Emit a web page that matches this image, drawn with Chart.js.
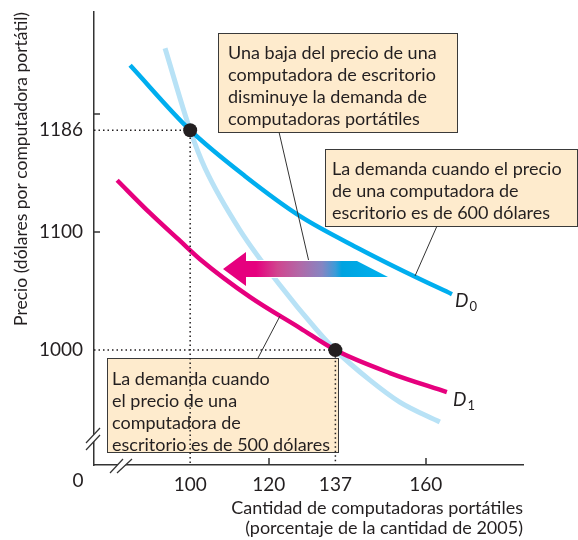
<!DOCTYPE html>
<html lang="es">
<head>
<meta charset="UTF-8" />
<title>Demanda de computadoras portátiles</title>
<script src="https://cdn.jsdelivr.net/npm/chart.js@4.4.0/dist/chart.umd.min.js"></script>
<style>
    html, body { margin: 0; padding: 0; background: #fff; }
</style>
</head>
<body>
<canvas id="demandChart" width="578" height="540"></canvas>

<script>
    // ejes
    const xMin = 75.5, xMax = 184.8;
    const yMin = 902.8, yMax = 1286;
    const xTicks = [100, 120, 137, 160];
    const yTicks = [1000, 1100, 1186, 1200];
    const xTickMarks = [120, 160];      // marcas sin línea punteada
    const yTickMarks = [1100, 1200];

    // curvas de demanda
    const d0X = [84.7, 100, 114.0, 128.0, 143.3, 156.0, 166.7];
    const d0Y = [1240.9, 1186, 1147.1, 1113.3, 1085.4, 1064.2, 1047.3];
    const d1X = [81.4, 89.8, 97.5, 102.5, 115.3, 128.0, 137, 150.9, 165.4];
    const d1Y = [1143.7, 1115.8, 1092.1, 1076.9, 1044.8, 1018.6, 1000, 980.6, 964.5];
    const steepX = [93.6, 100, 103.8, 112.7, 122.9, 132.3, 137, 145.8, 153.4, 163.6];
    const steepY = [1255.3, 1186, 1153.8, 1101.4, 1054.9, 1016.9, 1000, 974.6, 956.0, 939.1];

    // equilibrios
    const eqX = [100, 137];
    const eqY = [1186, 1000];

    const font = 'Lato';
    const ink = '#231F20';

    const pts = (xs, ys) => xs.map((x, i) => ({ x: x, y: ys[i] }));

    // líneas punteadas desde los ejes hasta cada punto
    const guides = [];
    eqX.forEach((x, i) => {
        guides.push({ x: xMin, y: eqY[i] }, { x: x, y: eqY[i] }, { x: x, y: yMin }, { x: NaN, y: NaN });
    });

    // cuadros de texto
    const boxes = [
        { x: 218, y: 33, w: 239, h: 99, tx: 228, ty: 53,
          lines: ['Una baja del precio de una', 'computadora de escritorio', 'disminuye la demanda de', 'computadoras portátiles'] },
        { x: 325, y: 149, w: 252, h: 77, tx: 332, ty: 169,
          lines: ['La demanda cuando el precio', 'de una computadora de', 'escritorio es de 600 dólares'] },
        { x: 107, y: 358, w: 231, h: 94, tx: 112, ty: 379,
          lines: ['La demanda cuando', 'el precio de una', 'computadora de', 'escritorio es de 500 dólares'] }
    ];

    const notes = {
        id: 'notes',
        beforeDatasetsDraw(chart) {
            const ctx = chart.ctx;
            ctx.save();
            boxes.forEach(b => {
                ctx.fillStyle = '#FEEBCD';
                ctx.fillRect(b.x, b.y, b.w, b.h);
                ctx.strokeStyle = '#3a3a3a';
                ctx.lineWidth = 1;
                ctx.strokeRect(b.x + 0.5, b.y + 0.5, b.w, b.h);
                ctx.fillStyle = ink;
                ctx.font = '18px ' + font;
                ctx.textBaseline = 'middle';
                ctx.textAlign = 'left';
                b.lines.forEach((t, i) => ctx.fillText(t, b.tx, b.ty + i * 22));
            });
            ctx.restore();
        },
        afterDatasetsDraw(chart) {
            const ctx = chart.ctx;
            ctx.save();
            // líneas de referencia
            ctx.strokeStyle = '#333';
            ctx.lineWidth = 1;
            [[279, 132, 309, 262], [437, 226, 415, 276], [258, 358, 280, 316]].forEach(l => {
                ctx.beginPath();
                ctx.moveTo(l[0], l[1]);
                ctx.lineTo(l[2], l[3]);
                ctx.stroke();
            });

            // flecha del desplazamiento
            const g = ctx.createLinearGradient(223, 0, 388, 0);
            g.addColorStop(0, '#E6007E');
            g.addColorStop(0.2, '#E6007E');
            g.addColorStop(0.33, '#D0468F');
            g.addColorStop(0.47, '#B06AA8');
            g.addColorStop(0.6, '#8685C2');
            g.addColorStop(0.68, '#3D9BD8');
            g.addColorStop(0.72, '#00A3E0');
            g.addColorStop(1, '#00B2EF');
            ctx.beginPath();
            ctx.moveTo(223, 269);
            ctx.lineTo(246, 252);
            ctx.lineTo(246, 261);
            ctx.lineTo(357, 261);
            ctx.lineTo(388, 277);
            ctx.lineTo(246, 277);
            ctx.lineTo(246, 286);
            ctx.closePath();
            ctx.strokeStyle = '#fff';
            ctx.lineWidth = 2;
            ctx.stroke();
            ctx.fillStyle = g;
            ctx.fill();

            // etiquetas D0 y D1
            ctx.fillStyle = ink;
            ctx.textBaseline = 'middle';
            ctx.textAlign = 'left';
            [['0', 455, 301], ['1', 453, 400]].forEach(d => {
                ctx.font = 'italic 19px ' + font;
                ctx.fillText('D', d[1], d[2]);
                const w = ctx.measureText('D').width;
                ctx.font = '13px ' + font;
                ctx.fillText(d[0], d[1] + w + 1, d[2] + 6);
            });
            ctx.restore();
        },
        afterDraw(chart) {
            const ctx = chart.ctx;
            const xs = chart.scales.x, ys = chart.scales.y;
            const a = chart.chartArea;
            ctx.save();
            ctx.strokeStyle = '#333';
            ctx.lineWidth = 1.5;
            // marcas de graduación hacia adentro
            xTickMarks.forEach(v => {
                const px = Math.round(xs.getPixelForValue(v));
                ctx.beginPath();
                ctx.moveTo(px, a.bottom);
                ctx.lineTo(px, a.bottom - 7);
                ctx.stroke();
            });
            yTickMarks.forEach(v => {
                const py = Math.round(ys.getPixelForValue(v));
                ctx.beginPath();
                ctx.moveTo(a.left, py);
                ctx.lineTo(a.left + 6, py);
                ctx.stroke();
            });

            // cortes de los ejes
            ctx.fillStyle = '#fff';
            ctx.beginPath();
            ctx.moveTo(86, 443); ctx.lineTo(100, 428); ctx.lineTo(100, 435); ctx.lineTo(86, 450);
            ctx.closePath();
            ctx.fill();
            ctx.beginPath();
            ctx.moveTo(110, 473); ctx.lineTo(123, 459); ctx.lineTo(132, 459); ctx.lineTo(117, 473);
            ctx.closePath();
            ctx.fill();
            ctx.lineWidth = 1.2;
            [[86, 443, 100, 428], [86, 450, 100, 435], [110, 473, 123, 459], [117, 473, 132, 459]].forEach(l => {
                ctx.beginPath();
                ctx.moveTo(l[0], l[1]);
                ctx.lineTo(l[2], l[3]);
                ctx.stroke();
            });

            // origen
            ctx.fillStyle = ink;
            ctx.font = '19px ' + font;
            ctx.textAlign = 'center';
            ctx.textBaseline = 'middle';
            ctx.fillText('0', 78, 481);
            ctx.restore();
        }
    };

    const ctx = document.getElementById('demandChart').getContext('2d');

    new Chart(ctx, {
        type: 'scatter',
        data: {
            datasets: [
                {
                    data: pts(steepX, steepY),
                    showLine: true,
                    borderColor: '#B8E2F6',
                    borderWidth: 5,
                    pointRadius: 0,
                    cubicInterpolationMode: 'monotone',
                    order: 4
                },
                {
                    data: pts(d0X, d0Y),
                    showLine: true,
                    borderColor: '#00AEEF',
                    borderWidth: 4.5,
                    pointRadius: 0,
                    cubicInterpolationMode: 'monotone',
                    order: 3
                },
                {
                    data: pts(d1X, d1Y),
                    showLine: true,
                    borderColor: '#E6007E',
                    borderWidth: 4.5,
                    pointRadius: 0,
                    cubicInterpolationMode: 'monotone',
                    order: 2
                },
                {
                    data: guides,
                    showLine: true,
                    spanGaps: false,
                    borderColor: '#231F20',
                    borderWidth: 1.5,
                    borderDash: [1.5, 3],
                    pointRadius: 0,
                    order: 1
                },
                {
                    data: pts(eqX, eqY),
                    pointRadius: 7,
                    pointBackgroundColor: '#231F20',
                    pointBorderWidth: 0,
                    order: 0
                }
            ]
        },
        options: {
            responsive: false,
            animation: false,
            events: [],
            layout: { padding: { top: 12, right: 55, left: 0, bottom: 0 } },
            plugins: {
                legend: false,
                tooltip: { enabled: false }
            },
            scales: {
                x: {
                    type: 'linear',
                    min: xMin,
                    max: xMax,
                    afterBuildTicks: s => { s.ticks = xTicks.map(v => ({ value: v })); },
                    afterFit: s => { s.height = 75; },
                    grid: { display: false, drawTicks: true, tickLength: 8 },
                    border: { display: true, color: '#333', width: 1.5 },
                    ticks: {
                        padding: 0,
                        color: ink,
                        font: { family: font, size: 19 },
                        callback: v => String(v)
                    },
                    title: {
                        display: true,
                        align: 'end',
                        text: ['Cantidad de computadoras portátiles', '(porcentaje de la cantidad de 2005)'],
                        color: ink,
                        font: { family: font, size: 18, lineHeight: 1.11 },
                        padding: { top: 0, bottom: 2 }
                    }
                },
                y: {
                    type: 'linear',
                    min: yMin,
                    max: yMax,
                    afterBuildTicks: s => { s.ticks = yTicks.map(v => ({ value: v })); },
                    afterFit: s => { s.width = 94; },
                    grid: { display: false, drawTicks: true, tickLength: 11 },
                    border: { display: true, color: '#333', width: 1.5 },
                    ticks: {
                        padding: 0,
                        color: ink,
                        font: { family: font, size: 19 },
                        callback: v => (v === 1200 ? '' : String(v))
                    },
                    title: {
                        display: true,
                        align: 'end',
                        text: 'Precio (dólares por computadora portátil)',
                        color: ink,
                        font: { family: font, size: 17.5, lineHeight: 1.2 },
                        padding: { top: 11, bottom: 0 }
                    }
                }
            }
        },
        plugins: [notes]
    });
</script>
</body>
</html>
